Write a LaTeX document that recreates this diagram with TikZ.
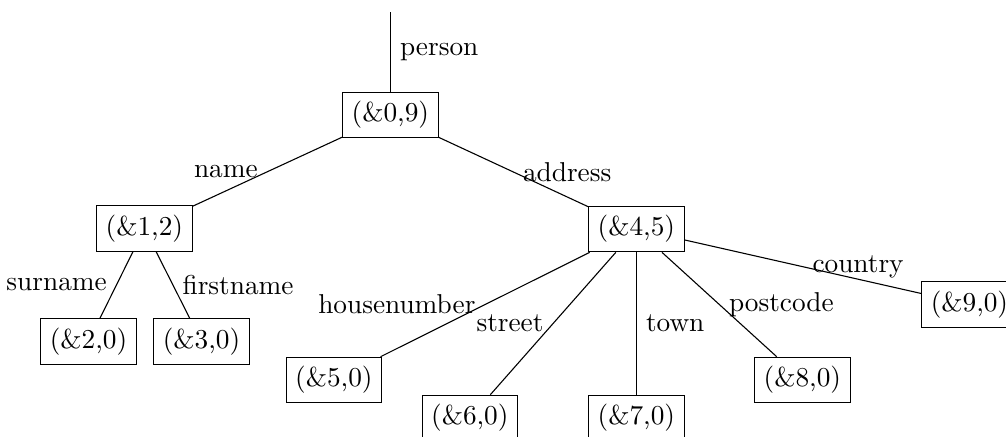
\documentclass[tikz,border=0pt]{standalone}

\begin{document}
\begin{tikzpicture}[x=1pt,y=1pt,cell/.style={draw,rectangle}]

\useasboundingbox (-143,-117.9) rectangle (225.5,42.1);

\coordinate (root) at (0,37.7);
\node[cell] (n09) at (0,0) {(\&0,9)};

\node[cell] (n12) at (-90.1,-41.6) {(\&1,2)};
\node[cell] (n20) at (-110.6,-83) {(\&2,0)};
\node[cell] (n30) at (-69.2,-83) {(\&3,0)};

\node[cell] (n45) at (90.1,-41.8) {(\&4,5)};
\node[cell] (n50) at (-20.7,-97.1) {(\&5,0)};
\node[cell] (n60) at (29.1,-111) {(\&6,0)};
\node[cell] (n70) at (90.1,-111) {(\&7,0)};
\node[cell] (n80) at (150.9,-97.1) {(\&8,0)};
\node[cell] (n90) at (212.1,-69.4) {(\&9,0)};

\draw (root) -- node[right]{person} (n09);
\draw (n09) -- node[left]{name} (n12);
\draw (n09) -- node[right]{address} (n45);

\draw (n12) -- node[left]{surname} (n20);
\draw (n12) -- node[right]{firstname} (n30);

\draw (n45) -- node[left]{housenumber} (n50);
\draw (n45) -- node[left]{street} (n60);
\draw (n45) -- node[right]{town} (n70);
\draw (n45) -- node[right]{postcode} (n80);
\draw (n45) -- node[right]{country} (n90);

\end{tikzpicture}
\end{document}
